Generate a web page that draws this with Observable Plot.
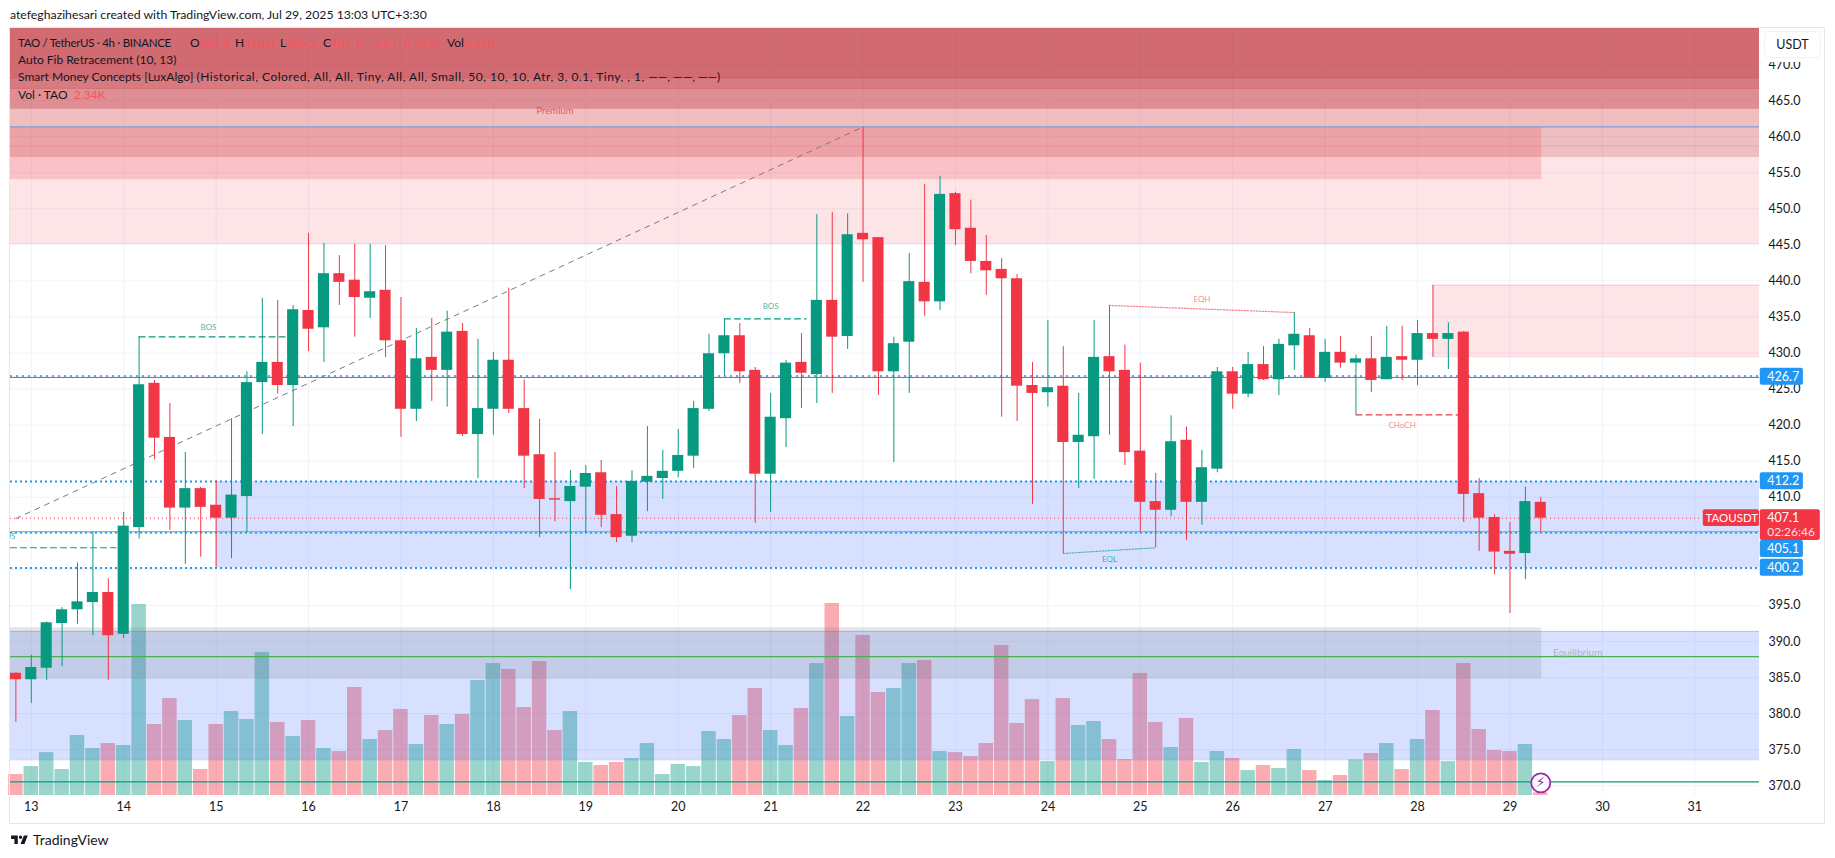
<!DOCTYPE html>
<html><head><meta charset="utf-8">
<script src="https://cdn.jsdelivr.net/npm/d3@7"></script>
<script src="https://cdn.jsdelivr.net/npm/@observablehq/plot@0.6"></script>
<style>
html,body{margin:0;padding:0;background:#fff;overflow:hidden}
#page{position:relative;width:1835px;height:858px;font-family:Lato,"Liberation Sans",sans-serif;color:#131722}
#title{position:absolute;left:10px;top:6px;font-size:12.25px;line-height:18px;white-space:nowrap}
#chart{position:absolute;left:0;top:27px}
#frame{position:absolute;left:9px;top:27px;width:1814px;height:795px;border:1.5px solid #e6e6e6;pointer-events:none}
#legend{position:absolute;left:18px;top:34px;font-size:12px;white-space:pre}
#legend>div{position:relative;height:17.2px;line-height:17.2px}
#legend .i{position:absolute;top:0}
#legend .n{font-size:11.5px;letter-spacing:-.3px}
#legend .a{letter-spacing:.5px}
#legend .v{color:#f7525f}
#usdt{position:absolute;left:1764px;top:31px;width:55px;height:25px;background:#fff;border:1.5px solid #f0f3fa;border-radius:5px;font-size:12.5px;line-height:25px;text-align:center;box-shadow:0 4px 0 #fff}
#logo{position:absolute;left:10px;top:831px;display:flex;align-items:center;gap:3px;font-size:14px;line-height:18px}
</style></head><body>
<div id="page">
<div id="title">atefeghazihesari created with TradingView.com, Jul 29, 2025 13:03 UTC+3:30</div>
<div id="chart"></div>
<div id="frame"></div>
<div id="legend"><div><span class="i n" style="left:0">TAO / TetherUS · 4h · BINANCE</span><span class="i" style="left:172px">O<span class="v">409.3</span></span><span class="i" style="left:217px">H<span class="v">410.0</span></span><span class="i" style="left:262px">L<span class="v">405.2</span></span><span class="i" style="left:305px">C<span class="v">407.1</span></span><span class="i v" style="left:349px">−2.2 (−0.54%)</span><span class="i" style="left:429px">Vol<span class="v">2.34K</span></span></div><div>Auto Fib Retracement (10, 13)</div><div>Smart Money Concepts [LuxAlgo] <span class="a">(Historical, Colored, All, All, Tiny, All, All, Small, 50, 10, 10, Atr, 3, 0.1, Tiny, , 1, </span>——, ——, ——)</div><div>Vol · TAO  <span class="v">2.34K</span></div></div>
<div id="usdt">USDT</div>
<div id="logo"><svg width="20" height="16" viewBox="0 0 36 28"><path fill="#131722" d="M14 6H2v6h6v9h6V6Zm12 15h-7l6-15h7l-6 15Zm-7-9a3 3 0 1 0 0-6 3 3 0 0 0 0 6Z"/></svg><span>TradingView</span></div>
</div>
<script>
const opens=[385.6,384.7,386.3,392.5,394.4,395.4,396.8,391.0,405.8,425.8,
418.3,408.5,411.2,408.9,407.1,410.1,425.9,428.7,425.5,435.9,
433.5,441.0,440.1,437.6,438.7,431.7,422.2,429.4,427.6,433.0,
418.7,422.2,429.0,422.3,415.9,409.8,409.4,411.4,413.4,407.6,
404.6,412.1,412.6,413.6,415.7,422.2,429.9,432.4,427.6,413.2,
420.9,428.7,427.0,437.3,432.3,446.6,446.0,427.4,431.5,439.8,
437.1,452.1,447.3,442.7,441.6,440.3,425.5,424.5,425.4,417.6,
418.4,429.5,427.6,416.4,409.4,408.2,417.9,409.3,413.9,427.4,
424.3,428.4,426.3,431.0,432.4,426.5,430.1,428.6,429.2,426.3,
429.5,429.0,432.7,431.9,432.9,410.5,407.2,402.5,402.2,409.3];
const closes=[384.7,386.4,392.6,394.4,395.5,396.8,390.8,406.0,425.6,418.2,
408.5,411.2,408.6,407.1,410.3,425.9,428.7,425.5,436.0,433.3,
441.0,439.8,437.7,438.5,431.7,422.2,429.2,427.6,432.9,418.7,
422.3,429.0,422.2,415.7,409.7,409.6,411.5,413.3,407.5,404.4,
412.2,412.9,413.6,415.8,422.3,429.9,432.4,427.4,413.2,421.1,
428.6,427.2,437.3,432.2,446.4,445.7,427.4,431.3,439.9,437.1,
452.0,447.1,442.7,441.4,440.3,425.4,424.4,425.2,417.6,418.6,
429.4,427.4,416.2,409.3,408.2,417.7,409.3,414.1,427.4,424.3,
428.4,426.3,431.2,432.6,426.5,430.1,428.6,429.2,426.2,429.4,
429.0,432.7,431.9,432.7,410.4,407.1,402.4,402.1,409.4,407.1];
const highs=[385.7,388.1,392.7,394.7,400.9,405.1,398.7,407.9,432.3,426.2,
423.0,416.2,411.4,412.3,420.9,427.4,437.6,437.3,436.6,446.6,
445.2,443.5,445.1,445.1,444.9,437.7,433.4,434.8,435.8,434.1,
431.9,430.1,439.0,426.3,420.8,416.2,413.7,414.4,415.1,411.5,
413.7,419.8,416.5,419.4,423.3,432.6,434.7,434.1,428.0,424.4,
429.0,432.7,449.2,449.5,449.3,461.3,446.0,432.2,443.8,453.4,
454.5,452.3,451.2,446.3,443.1,440.9,428.7,434.5,430.9,424.4,
434.5,436.6,431.1,428.6,413.3,421.3,419.7,416.5,428.0,428.0,
430.1,430.9,431.9,435.6,433.4,431.9,432.3,429.7,432.3,433.7,
433.7,434.5,439.4,434.2,433.0,412.6,407.6,406.5,411.4,410.0];
const lows=[378.8,381.4,384.6,386.5,392.4,390.8,384.6,390.4,404.2,415.2,
405.4,400.7,401.7,400.3,401.5,405.1,418.7,424.3,419.8,430.2,
428.7,436.6,432.2,434.8,429.4,418.3,420.5,423.3,422.5,418.4,
412.6,418.6,421.6,411.2,404.4,406.6,397.2,405.1,405.8,403.7,
403.7,408.0,409.7,412.7,414.0,421.9,426.8,425.8,406.4,407.9,
416.9,422.3,423.0,424.4,430.5,439.8,424.1,414.8,424.4,435.1,
435.9,444.9,441.0,438.0,421.1,420.5,409.0,422.5,402.2,411.2,
412.5,418.6,414.4,405.1,403.0,407.3,404.0,406.1,413.4,422.2,
423.8,426.2,424.1,427.6,426.5,425.9,427.9,421.4,424.5,426.3,
426.2,425.5,429.4,427.7,406.5,402.5,399.3,393.9,398.6,405.2];
const volumes=[18.4,25.4,37.7,22.8,52.7,41.2,45.6,43.9,167.6,62.3,
85.1,65.8,22.8,62.3,73.7,66.7,125.5,64.1,51.8,65.8,
41.2,38.6,94.8,49.1,57,75.5,44.8,70.2,62.3,71.1,
100.9,115.8,110.6,77.2,117.6,57,73.7,29,26.3,29,
32.5,45.6,18.4,27.2,25.4,56.2,49.1,70.2,93.9,57,
43.9,76.3,115.8,168.5,69.3,140.4,90.4,93.9,115.8,118.5,
38.6,37.7,34.2,45.6,131.6,63.2,84.2,29.8,85.1,61.4,
64.9,49.1,31.6,107.1,64.1,42.1,67.6,29,38.6,32.5,
21.9,26.3,23.7,40.4,21.9,13.2,17.6,31.3,36.9,45.6,
22.8,49.1,74.6,29.8,115.8,57.9,39.5,38.6,44.8,2.34];
const dayLabels=["13","14","15","16","17","18","19","20","21","22","23","24","25","26","27","28","29","30","31"];
const dayBars=dayLabels.map((d,k)=>1+6*k);
const gridPrices=[370,375,380,385,390,395,400,405,410,415,420,425,430,435,440,445,450,455,460,465,470];
const shownPrices=gridPrices.filter(p=>p!==400&&p!==405);

const UP="#089981",DOWN="#F23645",BLUE="#2962ff",DARK="#b8232e";
const xMin=-0.35,xMax=113.2,yMin=368.65,yMax=475,lastBar=99.06;
const bars=opens.map((o,i)=>({i,o,c:closes[i],h:highs[i],l:lows[i],v:volumes[i],col:closes[i]>=o?UP:DOWN}));
const volToPrice=d3.scaleLinear([0,100],[yMin,yMin+15.8]);

const band=(x1,x2,y1,y2,fill,op,extra={})=>Plot.rect([{}],{x1:()=>x1,x2:()=>x2,y1:()=>y1,y2:()=>y2,fill,fillOpacity:op,...extra});
const hline=(p,stroke,w=1,extra={})=>Plot.ruleY([p],{stroke,strokeWidth:w,...extra});
const seg=(x1,y1,x2,y2,stroke,dash,w=1,op=1)=>Plot.line([[x1,y1],[x2,y2]],{x:d=>d[0],y:d=>d[1],stroke,strokeDasharray:dash,strokeWidth:w,strokeOpacity:op});
const note=(x,y,t,fill,size=8,extra={})=>Plot.text([t],{x:()=>x,y:()=>y,text:d=>d,fill,fontSize:size,...extra});
const badge=(x1,x2,y1,y2,fill)=>band(x1,x2,y1,y2,fill,1,{r:2});

const chart=Plot.plot({
  width:1835,height:796,marginLeft:10,marginRight:76,marginTop:1,marginBottom:28,
  style:{fontFamily:"Lato,'Liberation Sans',sans-serif",fontSize:"12px",color:"#131722",background:"transparent",overflow:"visible"},
  x:{domain:[xMin,xMax],axis:null},
  y:{domain:[yMin,yMax],axis:null},
  marks:[
    Plot.ruleY(gridPrices,{stroke:"#f0f3fa",strokeWidth:1}),
    Plot.ruleX(dayBars,{stroke:"#f0f3fa",strokeWidth:1}),
    // volume
    Plot.rect(bars,{x1:d=>d.i-0.47,x2:d=>d.i+0.47,y1:()=>yMin,y2:d=>volToPrice(d.v),fill:d=>d.col,fillOpacity:0.41}),
    // premium zone stack
    band(xMin,xMax,445.2,yMax,DOWN,0.13),
    hline(445.2,"#fbd0d0"),
    band(xMin,lastBar,454.05,461.35,DOWN,0.2),
    band(xMin,xMax,457.28,yMax,DARK,0.2),
    band(xMin,xMax,463.93,yMax,DARK,0.3),
    band(xMin,xMax,466.7,yMax,DARK,0.19),
    band(xMin,xMax,468.15,yMax,DARK,0.19),
    hline(457.28,DARK,1,{strokeOpacity:.25}),hline(458.72,DARK,1,{strokeOpacity:.12}),
    hline(463.93,DARK,1,{strokeOpacity:.3}),hline(466.7,DARK,1,{strokeOpacity:.3}),hline(468.15,DARK,1,{strokeOpacity:.3}),
    // supply block at right
    band(92,xMax,429.5,439.4,DOWN,0.13),
    seg(92,439.4,xMax,439.4,DOWN,null,1,.2),seg(92,429.5,xMax,429.5,DOWN,null,1,.2),
    // blue zones
    band(13,xMax,400.2,412.2,BLUE,0.19),
    band(xMin,xMax,373.6,391.4,BLUE,0.19),
    hline(391.4,BLUE,1,{strokeOpacity:.25}),hline(373.6,BLUE,1,{strokeOpacity:.25}),
    // equilibrium
    band(xMin,lastBar,384.8,391.9,"#787b86",0.2),
    // levels
    hline(461.35,"#7f9fd8",1.2),
    hline(387.9,"#4caf50",1.2),
    hline(370.55,UP,1.2),
    hline(405.25,"#8dc27a",1.2),
    hline(426.62,DOWN,1),
    hline(426.8,"#2196f3",1.5,{strokeDasharray:"2 4"}),
    hline(412.2,"#2196f3",2,{strokeDasharray:"2 3"}),
    hline(400.2,"#2196f3",2,{strokeDasharray:"2 3"}),
    hline(405.08,"#2196f3",1.5,{strokeDasharray:"2 3"}),
    Plot.ruleY([407.1],{x1:()=>xMin,x2:()=>109.5,stroke:DOWN,strokeWidth:1,strokeDasharray:"1 3"}),
    // fib diagonal
    seg(0,407.05,55,461.35,"#787b86","5 5.5",1),
    // structure lines
    seg(8,432.25,17.6,432.25,UP,"6 4",1.2),
    seg(46,434.74,51.3,434.74,UP,"6 4",1.2),
    seg(xMin,403,6.5,403,UP,"6 4",1.2),
    seg(87,421.43,94,421.43,DOWN,"6 4",1.2),
    seg(71,436.6,83,435.62,DOWN,"1.5 1.5",1.2,.6),
    seg(68,402.21,74,403,UP,"1.5 1.5",1.2,.6),
    // candles
    Plot.ruleX(bars,{x:"i",y1:"l",y2:"h",stroke:"col",strokeWidth:1}),
    Plot.rect(bars,{x1:d=>d.i-0.36,x2:d=>d.i+0.36,y1:"o",y2:"c",fill:"col"}),
    // labels
    note(12.5,433.6,"BOS",UP,8,{fillOpacity:.75}),
    note(49,436.5,"BOS",UP,8,{fillOpacity:.75}),
    note(-0.55,404.6,"BOS",UP,8,{fillOpacity:.75,clip:"frame"}),
    note(77,437.4,"EQH",DOWN,8,{fillOpacity:.6}),
    note(71,401.45,"EQL",UP,8,{fillOpacity:.75}),
    note(90,419.9,"CHoCH",DOWN,8,{fillOpacity:.6}),
    note(35,463.5,"Premium",DOWN,9.5,{fillOpacity:.85}),
    note(101.4,388.4,"Equilibrium","#b2b5be",10),
    // realtime marker
    Plot.dot([99],{x:d=>d,y:()=>370.4,r:9.5,fill:"#fff",stroke:"#9c27b0",strokeWidth:1.8}),
    Plot.text(["⚡"],{x:()=>99,y:()=>370.4,text:d=>d,fill:"#9c27b0",fontSize:14,fontFamily:"DejaVu Sans"}),
    // axes
    Plot.axisY(shownPrices,{anchor:"right",tickSize:0,tickPadding:9,tickFormat:d=>d.toFixed(1),label:null,fontSize:12.5}),
    Plot.axisX(dayBars,{anchor:"bottom",tickSize:0,tickPadding:7,tickFormat:d=>dayLabels[(d-1)/6],label:null,fontSize:12.5}),
    // price badges
    badge(113.25,116.05,425.55,427.9,"#2196f3"),
    badge(113.25,116.05,411.05,413.4,"#2196f3"),
    badge(113.25,116.05,401.65,404,"#2196f3"),
    badge(113.25,116.05,399.05,401.4,"#2196f3"),
    badge(113.25,117.15,404,408.26,DOWN),
    badge(109.55,113.2,405.95,408.26,DOWN),
    note(113.7,426.7,"426.7","#fff",12.5,{textAnchor:"start"}),
    note(113.7,412.2,"412.2","#fff",12.5,{textAnchor:"start"}),
    note(113.7,402.8,"405.1","#fff",12.5,{textAnchor:"start"}),
    note(113.7,400.2,"400.2","#fff",12.5,{textAnchor:"start"}),
    note(113.7,407.15,"407.1","#fff",12.5,{textAnchor:"start"}),
    note(113.7,405.2,"02:26:46","#fff",12,{textAnchor:"start",fillOpacity:.85}),
    note(111.4,407.1,"TAOUSDT","#fff",11.5)
  ]
});
document.getElementById("chart").append(chart);
</script>
</body></html>
